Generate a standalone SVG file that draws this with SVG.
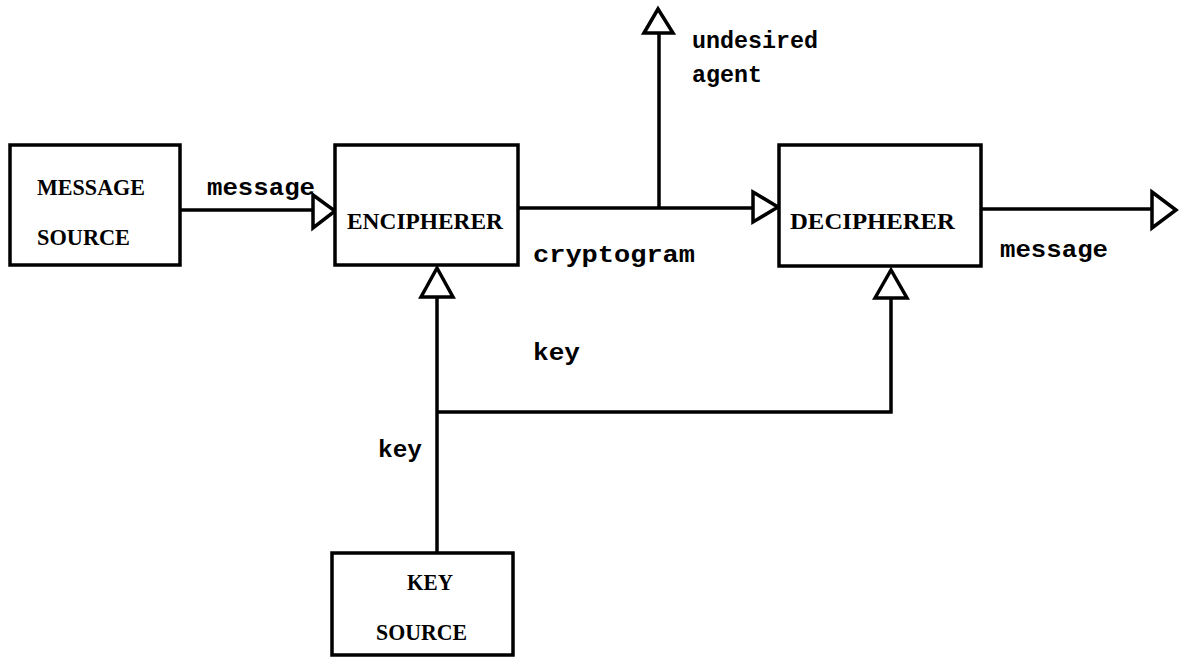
<svg xmlns="http://www.w3.org/2000/svg" width="1179" height="658" viewBox="0 0 1179 658">
<style>
.box{fill:#fff;stroke:#000;stroke-width:3.5}
.ln{fill:none;stroke:#000;stroke-width:3.5}
.ah{fill:#fff;stroke:#000;stroke-width:3.5;stroke-linejoin:miter}
.cap{font-family:"Liberation Serif",serif;font-weight:bold;font-size:24px;fill:#000}
.lbl{font-family:"Liberation Mono",monospace;font-weight:bold;font-size:24px;fill:#000}
</style>
<rect width="1179" height="658" fill="#fff"/>
<g id="connectors">
<line class="ln" x1="180" y1="210" x2="313" y2="210"/>
<polygon class="ah" points="313,195 335,211 313,228"/>
<line class="ln" x1="518" y1="208" x2="753" y2="208"/>
<polygon class="ah" points="753,192 778,207 753,222"/>
<line class="ln" x1="659" y1="208" x2="659" y2="33"/>
<polygon class="ah" points="644,33 658,9 673,33"/>
<line class="ln" x1="981" y1="209" x2="1152" y2="209"/>
<polygon class="ah" points="1152,192 1176,210 1152,228"/>
<polyline class="ln" points="437,553 437,297"/>
<polygon class="ah" points="421,297 437,268 453,297"/>
<polyline class="ln" points="437,412 891,412 891,298"/>
<polygon class="ah" points="875,298 891,270 907,298"/>
<text class="lbl" x="207" y="195" textLength="108" lengthAdjust="spacingAndGlyphs">message</text>
<text class="lbl" x="533" y="262" textLength="162" lengthAdjust="spacingAndGlyphs">cryptogram</text>
<text class="lbl" x="692" y="48" textLength="126" lengthAdjust="spacingAndGlyphs">undesired</text>
<text class="lbl" x="692" y="82" textLength="70" lengthAdjust="spacingAndGlyphs">agent</text>
<text class="lbl" x="1000" y="257" textLength="108" lengthAdjust="spacingAndGlyphs">message</text>
<text class="lbl" x="533" y="360" textLength="47" lengthAdjust="spacingAndGlyphs">key</text>
<text class="lbl" x="378" y="457" textLength="44" lengthAdjust="spacingAndGlyphs">key</text>
</g>
<g id="message-source">
<rect class="box" x="10" y="145" width="170" height="120"/>
<text class="cap" x="37" y="195" textLength="108" lengthAdjust="spacingAndGlyphs">MESSAGE</text>
<text class="cap" x="37" y="245" textLength="93" lengthAdjust="spacingAndGlyphs">SOURCE</text>
</g>
<g id="encipherer">
<rect class="box" x="335" y="145" width="183" height="120"/>
<text class="cap" x="347" y="229" textLength="156" lengthAdjust="spacingAndGlyphs">ENCIPHERER</text>
</g>
<g id="decipherer">
<rect class="box" x="779" y="145" width="202" height="121"/>
<text class="cap" x="790" y="229" textLength="165" lengthAdjust="spacingAndGlyphs">DECIPHERER</text>
</g>
<g id="key-source">
<rect class="box" x="332" y="553" width="181" height="102"/>
<text class="cap" x="407" y="590" textLength="46" lengthAdjust="spacingAndGlyphs">KEY</text>
<text class="cap" x="376" y="640" textLength="91" lengthAdjust="spacingAndGlyphs">SOURCE</text>
</g>
</svg>
